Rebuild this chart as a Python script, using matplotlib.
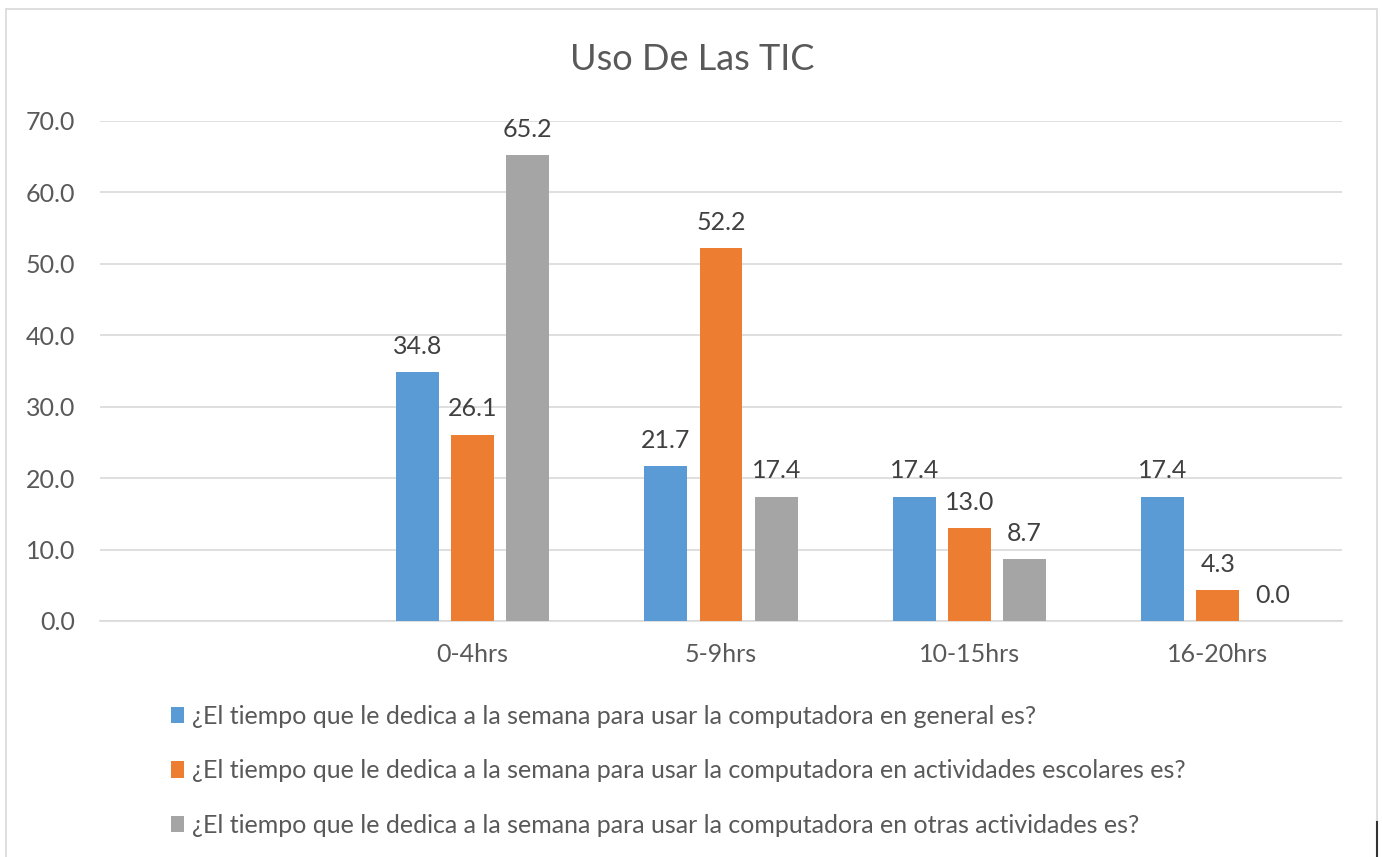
import matplotlib.pyplot as plt
import numpy as np
from matplotlib.patches import Rectangle
from matplotlib.lines import Line2D

plt.rcParams['font.family'] = ['Lato', 'DejaVu Sans']

# data
categories = ['', '0-4hrs', '5-9hrs', '10-15hrs', '16-20hrs']
general = [np.nan, 34.8, 21.7, 17.4, 17.4]
escolares = [np.nan, 26.1, 52.2, 13.0, 4.3]
otras = [np.nan, 65.2, 17.4, 8.7, 0.0]
series_names = [
    '¿El tiempo que le dedica a la semana para usar la computadora en general es?',
    '¿El tiempo que le dedica a la semana para usar la computadora en actividades escolares es?',
    '¿El tiempo que le dedica a la semana para usar la computadora en otras actividades es?',
]
colors = ['#5B9BD5', '#ED7D31', '#A5A5A5']
yticks = [0, 10, 20, 30, 40, 50, 60, 70]

W, H = 1382, 857
fig = plt.figure(figsize=(W / 100, H / 100), dpi=100)

# outer chart border
fig.add_artist(Rectangle((6 / W, -0.01), (1371 / W), 1 - 9 / H + 0.01,
                         transform=fig.transFigure, fill=False,
                         edgecolor='#D9D9D9', linewidth=1.2))
fig.add_artist(Line2D([1377 / W, 1377 / W], [0, 35 / H], transform=fig.transFigure,
                      color='#333333', linewidth=1.5))

ax = fig.add_axes([100 / W, (H - 621) / H, 1242 / W, 500 / H])

x = np.arange(len(categories))
width = 0.173
step = 0.222
text_color = '#595959'

for i, (vals, col, name) in enumerate(zip([general, escolares, otras], colors, series_names)):
    pos = x + (i - 1) * step
    ax.bar(pos, vals, width, color=col, label=name, zorder=3)
    for p, v in zip(pos, vals):
        if np.isnan(v):
            continue
        ax.text(p, v + 2.0, f'{v:.1f}', ha='center', va='bottom',
                fontsize=18, color='#404040')

ax.set_xlim(-0.5, len(categories) - 0.5)
ax.set_ylim(0, 70)
ax.set_yticks(yticks)
ax.set_yticklabels([f'{t:.1f}' for t in yticks])
ax.set_xticks(x)
ax.set_xticklabels(categories)
ax.yaxis.grid(True, color='#D9D9D9', linewidth=1.2, zorder=0)
ax.set_axisbelow(True)
for s in ['top', 'right', 'left']:
    ax.spines[s].set_visible(False)
ax.spines['bottom'].set_color('#D9D9D9')
ax.spines['bottom'].set_linewidth(1.2)
ax.tick_params(axis='both', length=0, labelsize=18, labelcolor=text_color)
ax.tick_params(axis='y', pad=18)
ax.tick_params(axis='x', pad=16)

fig.text(692 / W, 1 - 60 / H, 'Uso De Las TIC', ha='center', va='center',
         fontsize=26, color=text_color)

fig.legend(loc='upper left', bbox_to_anchor=(171 / W, 1 - 705 / H),
           frameon=False, fontsize=18, labelcolor=text_color,
           handlelength=0.52, handleheight=0.64, handletextpad=0.32,
           labelspacing=1.26, borderaxespad=0, borderpad=0)

fig.savefig('out.png', dpi=100)
